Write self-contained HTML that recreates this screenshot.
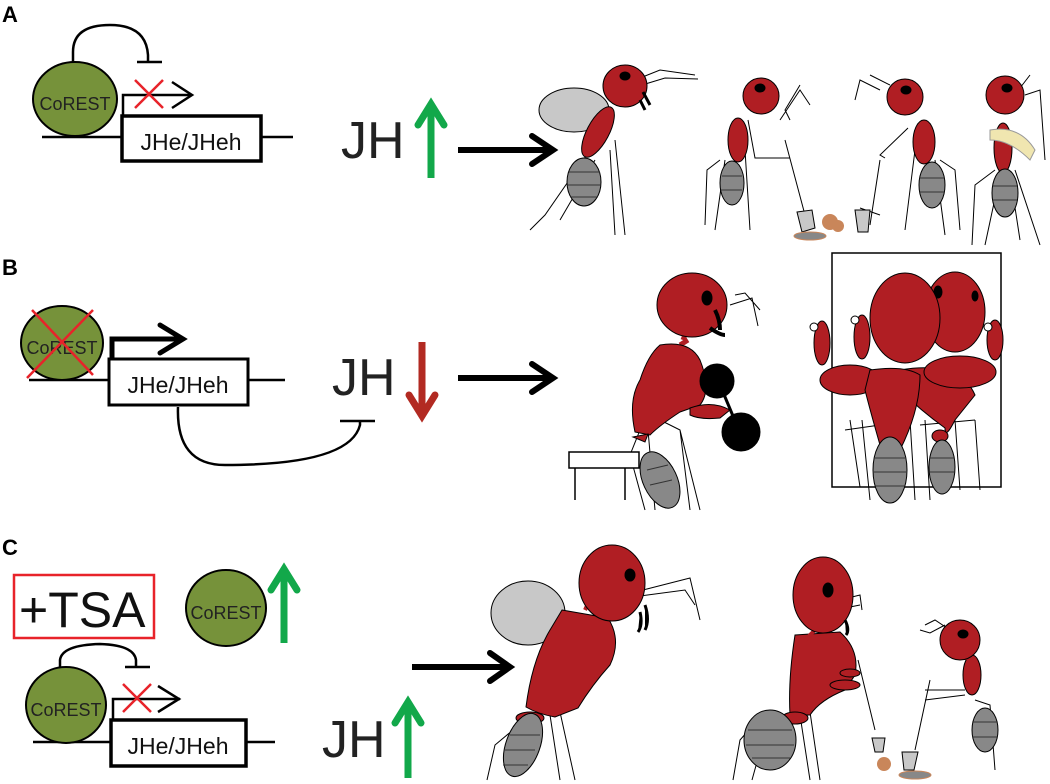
<!DOCTYPE html>
<html><head><meta charset="utf-8"><style>html,body{margin:0;padding:0;background:#fff}svg{display:block}</style></head>
<body>
<svg width="1050" height="784" viewBox="0 0 1050 784" xmlns="http://www.w3.org/2000/svg" font-family="Liberation Sans, Arial, sans-serif">
<g stroke="#000" fill="none">
<!-- Panel A -->
<text x="2" y="22" font-size="22" font-weight="bold" fill="#000" stroke="none">A</text>
<line x1="42" y1="137" x2="122" y2="137" stroke-width="2.5"/>
<line x1="262" y1="137" x2="293" y2="137" stroke-width="2.5"/>
<ellipse cx="75" cy="99" rx="42" ry="37" fill="#76923a" stroke-width="2"/>
<text x="75" y="110" font-size="18" text-anchor="middle" fill="#222" stroke="none">CoREST</text>
<path d="M73 62 V52 Q73 25 110 25 Q146 25 148 55 V62" stroke-width="2.5"/>
<line x1="137" y1="62" x2="162" y2="62" stroke-width="2.5"/>
<path d="M123 116 V95 H190" stroke-width="2.5"/>
<path d="M172 82 L192 95 L172 108" stroke-width="2.5"/>
<path d="M135 80 L163 108 M163 80 L135 108" stroke="#e8232a" stroke-width="2.5"/>
<rect x="122" y="116" width="139" height="45" fill="#fff" stroke-width="3.5"/>
<text x="191" y="150" font-size="23" text-anchor="middle" fill="#111" stroke="none">JHe/JHeh</text>
<text x="341" y="158" font-size="52" fill="#222" stroke="none">JH</text>
<line x1="431" y1="178" x2="431" y2="104" stroke="#12a84a" stroke-width="7"/>
<path d="M418 125 L431 104 L444 125" stroke="#12a84a" stroke-width="7" stroke-linecap="round"/>
<line x1="458" y1="150" x2="548" y2="150" stroke-width="6"/>
<path d="M532 136 L553 150 L532 164" stroke-width="6" stroke-linecap="round"/>

<!-- Panel B -->
<text x="2" y="275" font-size="22" font-weight="bold" fill="#000" stroke="none">B</text>
<line x1="29" y1="380" x2="109" y2="380" stroke-width="2.5"/>
<line x1="248" y1="380" x2="285" y2="380" stroke-width="2.5"/>
<ellipse cx="62" cy="343" rx="41" ry="37" fill="#76923a" stroke-width="2"/>
<text x="62" y="354" font-size="18" text-anchor="middle" fill="#222" stroke="none">CoREST</text>
<path d="M32 310 L93 375 M93 310 L27 378" stroke="#e8232a" stroke-width="2.5"/>
<path d="M112 360 V339 H180" stroke-width="5"/>
<path d="M160 325 L183 339 L160 353" stroke-width="5" stroke-linecap="round"/>
<rect x="109" y="359" width="139" height="46" fill="#fff" stroke-width="3"/>
<text x="178" y="393" font-size="23" text-anchor="middle" fill="#111" stroke="none">JHe/JHeh</text>
<path d="M178 407 Q176 465 225 465 Q350 465 360 425 V421" stroke-width="2.5"/>
<line x1="340" y1="421" x2="375" y2="421" stroke-width="2.5"/>
<text x="332" y="395" font-size="52" fill="#222" stroke="none">JH</text>
<line x1="422" y1="342" x2="422" y2="416" stroke="#b22a22" stroke-width="7"/>
<path d="M409 395 L422 416 L435 395" stroke="#b22a22" stroke-width="7" stroke-linecap="round"/>
<line x1="458" y1="378" x2="548" y2="378" stroke-width="6"/>
<path d="M532 364 L553 378 L532 392" stroke-width="6" stroke-linecap="round"/>

<!-- Panel C -->
<text x="2" y="555" font-size="22" font-weight="bold" fill="#000" stroke="none">C</text>
<rect x="14" y="575" width="140" height="63" fill="none" stroke="#e8232a" stroke-width="2.5"/>
<text x="19" y="627" font-size="50" fill="#111" stroke="none">+TSA</text>
<ellipse cx="226" cy="608" rx="40" ry="38" fill="#76923a" stroke-width="2"/>
<text x="226" y="619" font-size="18" text-anchor="middle" fill="#222" stroke="none">CoREST</text>
<line x1="284" y1="643" x2="284" y2="569" stroke="#12a84a" stroke-width="7"/>
<path d="M271 590 L284 569 L297 590" stroke="#12a84a" stroke-width="7" stroke-linecap="round"/>
<line x1="33" y1="742" x2="111" y2="742" stroke-width="2.5"/>
<line x1="246" y1="742" x2="275" y2="742" stroke-width="2.5"/>
<ellipse cx="66" cy="705" rx="40" ry="38" fill="#76923a" stroke-width="2"/>
<text x="66" y="716" font-size="18" text-anchor="middle" fill="#222" stroke="none">CoREST</text>
<path d="M60 667 V660 Q62 645 100 644 Q134 645 136 660 V667" stroke-width="2.5"/>
<line x1="125" y1="667" x2="150" y2="667" stroke-width="2.5"/>
<path d="M113 720 V699 H180" stroke-width="2.5"/>
<path d="M158 686 L179 699 L158 712" stroke-width="2.5"/>
<path d="M123 684 L151 712 M151 684 L123 712" stroke="#e8232a" stroke-width="2.5"/>
<rect x="111" y="720" width="135" height="46" fill="#fff" stroke-width="3.5"/>
<text x="178" y="754" font-size="23" text-anchor="middle" fill="#111" stroke="none">JHe/JHeh</text>
<text x="322" y="757" font-size="52" fill="#222" stroke="none">JH</text>
<line x1="408" y1="778" x2="408" y2="702" stroke="#12a84a" stroke-width="7"/>
<path d="M395 723 L408 702 L421 723" stroke="#12a84a" stroke-width="7" stroke-linecap="round"/>
<line x1="412" y1="667" x2="505" y2="667" stroke-width="6"/>
<path d="M490 653 L510 667 L490 681" stroke-width="6" stroke-linecap="round"/>
</g>

<!-- Ants panel A -->
<g stroke="#000" stroke-width="1">
<g fill="none" stroke-width="1"><path d="M590 150 L545 215 L530 230 M595 160 L560 220 M610 150 L615 235 M615 140 L625 235 M640 78 L660 70 L695 75 M642 85 L665 78 L698 79"/></g>
<ellipse cx="574" cy="110" rx="35" ry="22" fill="#c8c8c8"/>
<ellipse cx="598" cy="132" rx="11" ry="28" fill="#b01e23" transform="rotate(28 598 132)"/>
<ellipse cx="625" cy="86" rx="22" ry="21" fill="#b01e23"/>
<ellipse cx="625" cy="76" rx="5" ry="4" fill="#000"/>
<path d="M643 92 L650 105 M640 100 L645 110" stroke-width="3"/>
<ellipse cx="584" cy="182" rx="17" ry="24" fill="#888"/>
<path d="M569 172 H600 M568 185 H600 M570 197 H598" stroke="#333"/>

<g fill="none"><path d="M720 160 L707 170 L705 225 M725 160 L715 230 M745 150 L750 230 M748 120 L755 158 L790 158 M790 120 L785 110 L800 85 M780 120 L800 90 L810 105 M785 140 L805 215"/></g>
<ellipse cx="738" cy="140" rx="10" ry="22" fill="#b01e23"/>
<ellipse cx="761" cy="96" rx="18" ry="18" fill="#b01e23"/>
<ellipse cx="760" cy="88" rx="5" ry="4" fill="#000"/>
<ellipse cx="732" cy="183" rx="12" ry="22" fill="#888"/>
<path d="M722 176 H742 M721 190 H742" stroke="#333"/>
<path d="M797 212 L812 210 L815 228 L802 232 Z" fill="#c8c8c8"/>
<ellipse cx="810" cy="236" rx="16" ry="4" fill="#888" stroke="#c9865a"/>
<circle cx="830" cy="222" r="8" fill="#c9865a" stroke="none"/>
<circle cx="838" cy="226" r="6" fill="#c9865a" stroke="none"/>

<g fill="none"><path d="M940 160 L955 170 L960 230 M935 160 L945 235 M915 150 L905 230 M908 128 L880 155 L885 158 M880 160 L870 225 M880 90 L860 80 L855 100 M890 85 L870 75 M860 208 L880 215"/></g>
<ellipse cx="924" cy="142" rx="11" ry="22" fill="#b01e23"/>
<ellipse cx="905" cy="97" rx="18" ry="18" fill="#b01e23"/>
<ellipse cx="906" cy="90" rx="5" ry="4" fill="#000"/>
<ellipse cx="932" cy="185" rx="13" ry="23" fill="#888"/>
<path d="M920 178 H944 M920 192 H944" stroke="#333"/>
<path d="M855 210 L870 210 L868 232 L858 232 Z" fill="#c8c8c8"/>

<g fill="none"><path d="M995 170 L975 185 L972 245 M1000 175 L985 245 M1010 175 L1020 240 M1015 170 L1040 245 M1020 88 L1030 75 M1025 95 L1040 90 L1045 160"/></g>
<ellipse cx="1003" cy="148" rx="9" ry="25" fill="#b01e23"/>
<ellipse cx="1005" cy="95" rx="19" ry="19" fill="#b01e23"/>
<ellipse cx="1007" cy="88" rx="5" ry="4" fill="#000"/>
<path d="M990 130 Q1020 125 1035 150 L1030 160 Q1010 140 990 140 Z" fill="#f0e6b0" stroke="#999"/>
<ellipse cx="1005" cy="193" rx="13" ry="24" fill="#888"/>
<path d="M993 186 H1017 M993 200 H1017" stroke="#333"/>
</g>

<!-- Panel B ants -->
<g stroke="#000" stroke-width="1">
<g fill="none"><path d="M735 295 L745 293 L760 310 M730 305 L752 298 L758 326 M640 430 L630 455 L645 510 M648 430 L655 510 M660 420 L680 430 L690 510 M680 430 L700 510"/></g>
<path d="M683 340 L690 322 M688 340 L680 345" stroke="#b01e23" stroke-width="5"/>
<path d="M660 345 Q690 340 700 360 Q712 390 700 405 L680 412 Q660 425 650 435 L635 432 Q628 400 640 380 Q648 355 660 345 Z" fill="#b01e23"/>
<path d="M690 408 Q712 400 730 410 L720 418 Q700 420 690 415 Z" fill="#b01e23"/>
<ellipse cx="692" cy="305" rx="35" ry="32" fill="#b01e23"/>
<ellipse cx="707" cy="298" rx="5" ry="7" fill="#000"/>
<path d="M715 310 Q720 320 720 330 M710 328 Q720 335 725 335" stroke-width="4"/>
<line x1="720" y1="385" x2="738" y2="428" stroke-width="3"/>
<circle cx="717" cy="381" r="17" fill="#000"/>
<circle cx="741" cy="432" r="19" fill="#000"/>
<ellipse cx="660" cy="480" rx="17" ry="30" fill="#888" transform="rotate(-25 660 480)"/>
<path d="M647 470 L668 465 M650 485 L672 480" stroke="#333"/>
<path d="M633 437 L648 434 L645 442 Z" fill="#b01e23"/>
<rect x="569" y="452" width="70" height="16" fill="#fff" stroke-width="1.5"/>
<path d="M575 468 V500 M625 468 V500" stroke-width="1.5"/>

<rect x="832" y="253" width="169" height="234" fill="none" stroke-width="1.5"/>
<g fill="none"><path d="M850 420 L860 487 M862 420 L870 500 M910 420 L915 500 M925 420 L930 500 M955 420 L960 490 M975 420 L980 490 M845 430 L880 425 M920 425 L975 420"/></g>
<ellipse cx="822" cy="343" rx="8" ry="22" fill="#b01e23"/>
<ellipse cx="862" cy="337" rx="8" ry="22" fill="#b01e23"/>
<circle cx="814" cy="327" r="4" fill="#fff"/>
<circle cx="855" cy="320" r="4" fill="#fff"/>
<ellipse cx="995" cy="340" rx="8" ry="20" fill="#b01e23"/>
<circle cx="988" cy="327" r="4" fill="#fff"/>
<ellipse cx="955" cy="312" rx="30" ry="40" fill="#b01e23"/>
<ellipse cx="938" cy="292" rx="4" ry="6" fill="#000"/>
<ellipse cx="975" cy="296" rx="3" ry="5" fill="#000"/>
<ellipse cx="850" cy="380" rx="30" ry="15" fill="#b01e23"/>
<path d="M900 370 Q960 360 975 395 L955 420 Q945 440 945 428 Q920 410 900 390 Z" fill="#b01e23"/>
<path d="M870 370 Q905 365 920 375 Q920 410 900 450 Q885 455 880 445 Q870 410 865 390 Z" fill="#b01e23"/>
<ellipse cx="960" cy="372" rx="36" ry="16" fill="#b01e23"/>
<ellipse cx="905" cy="318" rx="35" ry="45" fill="#b01e23"/>
<ellipse cx="888" cy="453" rx="10" ry="6" fill="#b01e23"/>
<ellipse cx="940" cy="436" rx="8" ry="6" fill="#b01e23"/>
<ellipse cx="890" cy="470" rx="17" ry="33" fill="#888"/>
<path d="M875 458 H905 M874 472 H906 M876 486 H904" stroke="#333"/>
<ellipse cx="942" cy="467" rx="13" ry="27" fill="#888"/>
<path d="M930 458 H954 M930 472 H954" stroke="#333"/>
</g>

<!-- Panel C ants -->
<g stroke="#000" stroke-width="1">
<g fill="none"><path d="M643 590 L690 578 L700 620 M640 596 L685 590 L695 605 M525 720 L495 745 L487 780 M530 718 L505 760 M550 715 L560 780 M560 712 L575 780"/></g>
<ellipse cx="528" cy="613" rx="37" ry="32" fill="#c8c8c8"/>
<path d="M562 610 L608 618 Q622 640 610 665 Q592 685 578 708 L555 717 Q538 714 526 707 Q532 660 550 630 Z" fill="#b01e23"/>
<path d="M585 610 L592 595" stroke="#b01e23" stroke-width="4"/>
<ellipse cx="612" cy="583" rx="33" ry="38" fill="#b01e23"/>
<ellipse cx="630" cy="575" rx="5" ry="6" fill="#000"/>
<path d="M645 605 Q650 620 645 630 M640 612 Q643 625 638 632" stroke-width="3"/>
<ellipse cx="530" cy="718" rx="14" ry="6" fill="#b01e23"/>
<ellipse cx="523" cy="745" rx="17" ry="33" fill="#888" transform="rotate(20 523 745)"/>
<path d="M510 735 H540 M505 750 H535 M503 765 H528" stroke="#333"/>

<g fill="none"><path d="M762 715 L740 740 L733 780 M770 715 L752 780 M800 715 L810 780 M810 712 L820 780 M840 600 L860 595 L862 610 M835 610 L860 605 M858 660 L875 730 M930 680 L915 750 M925 690 L965 690 M925 700 L965 695 M945 625 L930 633 L920 630 M950 630 L935 620 L925 625 M975 700 L990 705 L995 770"/></g>
<path d="M795 635 L840 632 Q860 650 855 675 L845 690 Q820 700 810 715 L790 715 Q788 680 795 635 Z" fill="#b01e23"/>
<ellipse cx="845" cy="685" rx="15" ry="5" fill="#b01e23"/>
<ellipse cx="850" cy="673" rx="10" ry="4" fill="#b01e23"/>
<path d="M815 630 L805 640" stroke="#b01e23" stroke-width="4"/>
<ellipse cx="823" cy="595" rx="30" ry="38" fill="#b01e23"/>
<ellipse cx="828" cy="590" rx="5" ry="7" fill="#000"/>
<path d="M845 620 Q850 630 846 635" stroke-width="3"/>
<ellipse cx="795" cy="718" rx="13" ry="6" fill="#b01e23"/>
<ellipse cx="770" cy="740" rx="26" ry="30" fill="#888"/>
<path d="M748 730 H792 M746 745 H794 M752 758 H790" stroke="#333"/>
<path d="M872 738 L885 738 L883 752 L875 752 Z" fill="#c8c8c8"/>
<path d="M902 752 L918 752 L914 770 L904 770 Z" fill="#c8c8c8"/>
<circle cx="884" cy="764" r="7" fill="#c9865a" stroke="none"/>
<ellipse cx="915" cy="775" rx="16" ry="4" fill="#888" stroke="#c9865a"/>
<ellipse cx="972" cy="675" rx="9" ry="20" fill="#b01e23"/>
<path d="M966 640 V660" stroke="#b01e23" stroke-width="3"/>
<ellipse cx="960" cy="640" rx="20" ry="20" fill="#b01e23"/>
<ellipse cx="963" cy="634" rx="5" ry="4" fill="#000"/>
<ellipse cx="985" cy="730" rx="13" ry="22" fill="#888"/>
<path d="M973 722 H997 M973 737 H997" stroke="#333"/>
</g>
</svg>
</body></html>
